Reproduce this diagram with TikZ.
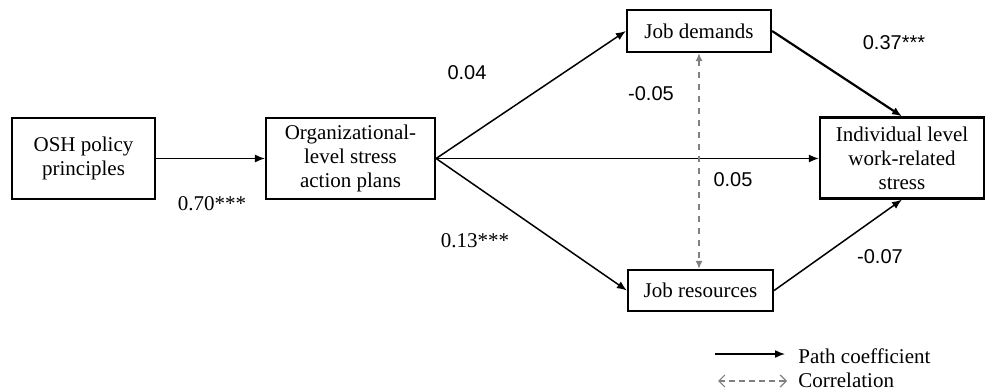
\documentclass[tikz,border=0pt]{standalone}
\usepackage{fontspec}
\setmainfont{Liberation Serif}
\newfontfamily\sansf{Liberation Sans}
\usetikzlibrary{arrows.meta}
\begin{document}
\begin{tikzpicture}[x=0.5pt,y=-0.5pt,
  box/.style={draw,line width=1.1pt,align=center,inner sep=0pt,font=\fontsize{10.5}{12}\selectfont},
  path/.style={draw,line width=0.75pt,-{Latex[length=5pt,width=4pt]}},
  corr/.style={draw,gray,dashed,line width=0.7pt,{Latex[length=4pt,width=3.5pt]}-{Latex[length=4pt,width=3.5pt]}},
  lab/.style={font=\fontsize{10.5}{12}\selectfont,inner sep=0pt},
  slab/.style={font=\sansf\fontsize{10}{12}\selectfont,inner sep=0pt}]
\useasboundingbox (0,0) rectangle (986,391);
\node[box,minimum width=71.5pt,minimum height=40.5pt] (osh) at (83.5,158.5) {OSH policy\\principles};
\node[box,minimum width=84.5pt,minimum height=40.5pt] (org) at (350.5,158.5) {Organizational-\\level stress\\action plans};
\node[box,minimum width=72pt,minimum height=21pt] (jd) at (699,31) {Job demands};
\node[box,minimum width=72.5pt,minimum height=20.5pt] (jr) at (700.5,290.5) {Job resources};
\node[box,minimum width=82pt,minimum height=40.5pt] (ind) at (902,158) {Individual level\\work-related\\stress};
\draw[path,line width=0.6pt] (osh.east) -- (org.west);
\draw[path] (org.east) -- (jd.west);
\draw[path] (org.east) -- (jr.west);
\draw[path] (org.east) -- (org.east -| ind.west);
\draw[path,line width=1.1pt] (jd.east) -- (ind.north);
\draw[path] (jr.east) -- (ind.south);
\draw[corr] (jd.south) -- (jd.south |- jr.north);
\node[lab] (l70) at (212,204) {0.70***};
\node[slab] (l04) at (467,73) {0.04};
\node[lab] (l13) at (475,241) {0.13***};
\node[slab] (l05a) at (651,94) {-0.05};
\node[slab] (l05b) at (733,180) {0.05};
\node[slab] (l37) at (894,43) {0.37***};
\node[slab] (l07) at (880,257) {-0.07};
\coordinate (pa) at (715,354);
\coordinate (pb) at (785,354);
\coordinate (ca) at (718,381);
\coordinate (cb) at (787,381);
\draw[path] (pa) -- (pb);
\draw[gray,densely dashed,line width=0.6pt,{Straight Barb[length=3pt,width=6pt]}-{Straight Barb[length=3pt,width=6pt]}] (ca) -- (cb);
\node[lab,anchor=west] (lp) at (798,356) {Path coefficient};
\node[lab,anchor=west] (lc) at (798,380) {Correlation};
\end{tikzpicture}
\end{document}
